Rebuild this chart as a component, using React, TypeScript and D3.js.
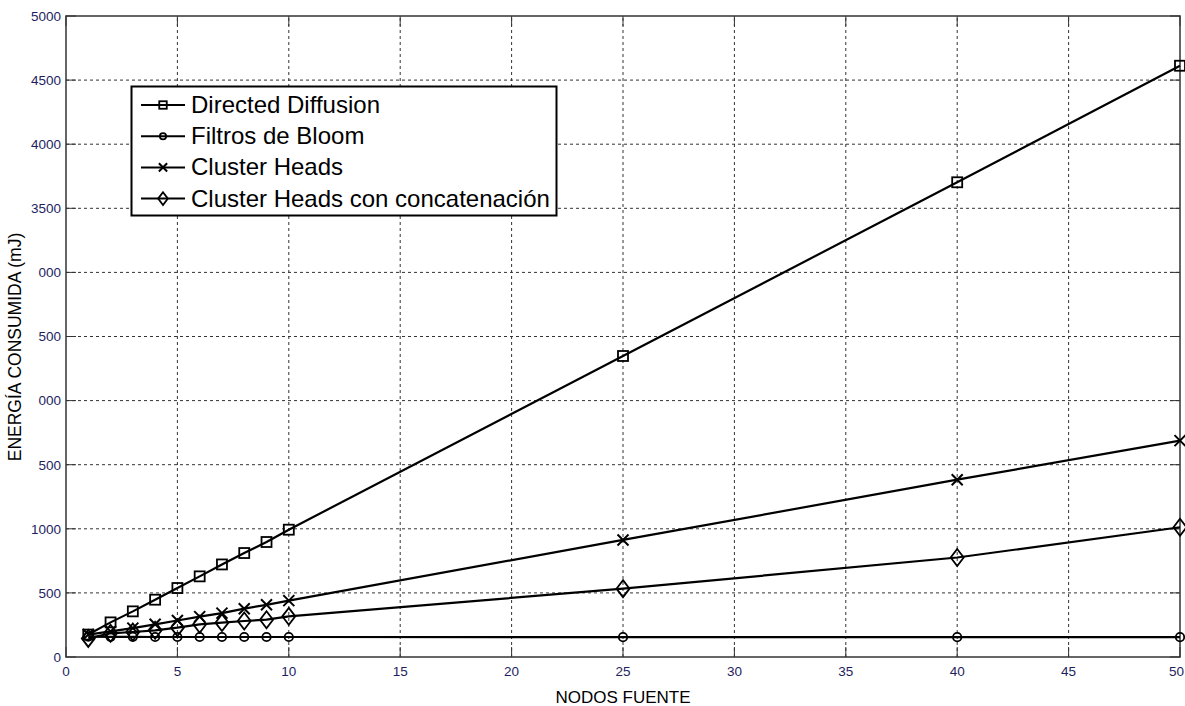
import * as d3 from "d3";

const W = 1185;
const H = 706;
const margin = { left: 66, right: 5, top: 16, bottom: 49 };

const nodos = [1, 2, 3, 4, 5, 6, 7, 8, 9, 10, 25, 40, 50];
const directedDiffusion = [175, 270, 356, 447, 538, 629, 722, 811, 897, 993, 2348, 3703, 4612];
const filtrosBloom = [158, 157, 157, 156, 156, 156, 156, 156, 156, 156, 155, 155, 155];
const clusterHeads = [175, 200, 225, 255, 285, 315, 342, 377, 407, 440, 913, 1383, 1688];
const clusterHeadsConcat = [145, 185, 195, 208, 229, 255, 268, 281, 291, 317, 533, 776, 1012];

const xTicks = [0, 5, 10, 15, 20, 25, 30, 35, 40, 45, 50];
const yTicks = [0, 500, 1000, 1500, 2000, 2500, 3000, 3500, 4000, 4500, 5000];
// labels as they appear in the picture (some clipped)
const yTickLabels = ["0", "500", "1000", "500", "000", "500", "000", "3500", "4000", "4500", "5000"];

const seriesNames = [
  "Directed Diffusion",
  "Filtros de Bloom",
  "Cluster Heads",
  "Cluster Heads con concatenación",
];
const seriesMarkers = ["square", "circle", "cross", "diamond"];
const seriesValues = [directedDiffusion, filtrosBloom, clusterHeads, clusterHeadsConcat];

const FONT = "'Liberation Sans', Arial, sans-serif";
const LABEL_COLOR = "#1e1e5e";

function Marker({ type, x, y, small }: { type: string; x: number; y: number; small?: boolean }) {
  const s = small ? 0.75 : 1;
  if (type === "square") {
    const a = 10 * s;
    return <rect x={x - a / 2} y={y - a / 2} width={a} height={a} fill="none" stroke="#000" strokeWidth={1.8} />;
  }
  if (type === "circle") {
    return <circle cx={x} cy={y} r={4.2 * s} fill="none" stroke="#000" strokeWidth={1.8} />;
  }
  if (type === "cross") {
    const a = 5.5 * s;
    return (
      <path
        d={`M${x - a},${y - a}L${x + a},${y + a}M${x - a},${y + a}L${x + a},${y - a}`}
        stroke="#000"
        strokeWidth={2}
        fill="none"
      />
    );
  }
  const w = 6.5 * s;
  const h = 8.5 * s;
  return (
    <path
      d={`M${x},${y - h}L${x + w},${y}L${x},${y + h}L${x - w},${y}Z`}
      fill="none"
      stroke="#000"
      strokeWidth={1.8}
    />
  );
}

export default function App() {
  const x = d3.scaleLinear().domain([0, 50]).range([margin.left, W - margin.right]);
  const y = d3.scaleLinear().domain([0, 5000]).range([H - margin.bottom, margin.top]);

  const line = d3
    .line<number>()
    .x((_, i) => x(nodos[i]))
    .y((d) => y(d));

  const x0 = x(0);
  const x1 = x(50);
  const y0 = y(0);
  const y1 = y(5000);
  const tickLen = 10;

  return (
    <div style={{ position: "fixed", left: 0, top: 0 }}>
      <svg width={W} height={H} style={{ display: "block", background: "#fff" }}>
        <rect x={0} y={0} width={W} height={H} fill="#fff" />
        {/* grid */}
        {xTicks.slice(1, -1).map((t) => (
          <line key={"gx" + t} x1={x(t)} x2={x(t)} y1={y0} y2={y1} stroke="#333" strokeWidth={1} strokeDasharray="3,3" />
        ))}
        {yTicks.slice(1, -1).map((t) => (
          <line key={"gy" + t} x1={x0} x2={x1} y1={y(t)} y2={y(t)} stroke="#333" strokeWidth={1} strokeDasharray="3,3" />
        ))}
        {/* ticks inside, all sides */}
        {xTicks.map((t, i) => (
          <g key={"tx" + t}>
            <line x1={x(t)} x2={x(t)} y1={y0} y2={y0 - tickLen} stroke="#333" strokeWidth={1} />
            <line x1={x(t)} x2={x(t)} y1={y1} y2={y1 + tickLen} stroke="#333" strokeWidth={1} />
            <text
              x={i === xTicks.length - 1 ? W - 1 : x(t)}
              y={y0 + 19}
              textAnchor={i === xTicks.length - 1 ? "end" : "middle"}
              fontFamily={FONT}
              fontSize={13.5}
              fill={LABEL_COLOR}
            >
              {t}
            </text>
          </g>
        ))}
        {yTicks.map((t, i) => (
          <g key={"ty" + t}>
            <line x1={x0} x2={x0 + tickLen} y1={y(t)} y2={y(t)} stroke="#333" strokeWidth={1} />
            <line x1={x1} x2={x1 - tickLen} y1={y(t)} y2={y(t)} stroke="#333" strokeWidth={1} />
            <text
              x={x0 - 5}
              y={y(t) + 4.8}
              textAnchor="end"
              fontFamily={FONT}
              fontSize={13.5}
              fill={LABEL_COLOR}
            >
              {yTickLabels[i]}
            </text>
          </g>
        ))}
        {/* box */}
        <rect x={x0} y={y1} width={x1 - x0} height={y0 - y1} fill="none" stroke="#333" strokeWidth={1.5} />

        {/* series */}
        {seriesValues.map((vals, si) => (
          <g key={"s" + si}>
            <path d={line(vals) || ""} fill="none" stroke="#000" strokeWidth={2.2} />
            {vals.map((v, i) => (
              <Marker key={i} type={seriesMarkers[si]} x={x(nodos[i])} y={y(v)} />
            ))}
          </g>
        ))}

        {/* legend */}
        <g>
          <rect x={131.5} y={86.5} width={425} height={129} fill="#fff" stroke="#000" strokeWidth={2} />
          {seriesNames.map((name, i) => {
            const ly = 105 + i * 31.2;
            return (
              <g key={name}>
                <line x1={141} x2={185} y1={ly} y2={ly} stroke="#000" strokeWidth={2} />
                <Marker type={seriesMarkers[i]} x={163} y={ly} small />
                <text x={191} y={ly + 8} fontFamily={FONT} fontSize={24} fill="#000">
                  {name}
                </text>
              </g>
            );
          })}
        </g>

        {/* axis titles */}
        <text x={(x0 + x1) / 2} y={703} textAnchor="middle" fontFamily={FONT} fontSize={17} fill="#000">
          NODOS FUENTE
        </text>
        <text
          transform={`translate(21,347) rotate(-90)`}
          textAnchor="middle"
          fontFamily={FONT}
          fontSize={17.5}
          fill="#000"
        >
          ENERGÍA CONSUMIDA (mJ)
        </text>
      </svg>
    </div>
  );
}
